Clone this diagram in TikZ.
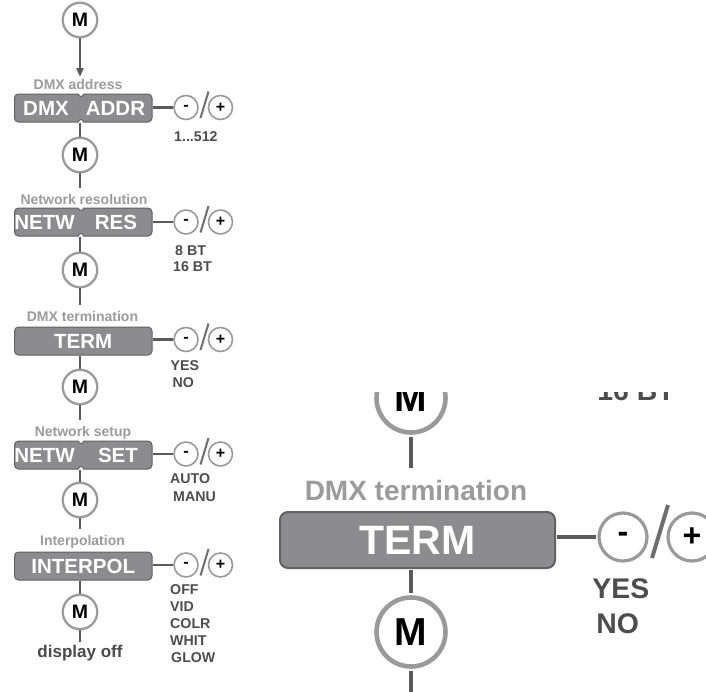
\documentclass[tikz,border=0pt]{standalone}
\usepackage{fontspec}
\setmainfont{Liberation Sans}
\usetikzlibrary{arrows.meta}
\definecolor{lblgray}{HTML}{9B9B9B}
\definecolor{optgray}{HTML}{4D4D4D}
\definecolor{ringgray}{HTML}{9A9A9A}
\definecolor{conngray}{HTML}{5A5A5A}
\definecolor{boxfill}{HTML}{8C8C8E}
\definecolor{boxedge}{HTML}{616161}
\definecolor{slashgray}{HTML}{6E6E6E}
\definecolor{dispgray}{HTML}{4A4A4A}
\def\dmxsc{1}
\tikzset{
  mnode/.style={circle, draw=ringgray, line width=\dmxsc*2.3pt, fill=white, minimum size=34.5pt, inner sep=0pt, font=\fontsize{19.5}{20}\selectfont\bfseries, text=black},
  pmnode/.style={circle, draw=ringgray, line width=\dmxsc*1.6pt, fill=white, minimum size=24pt, inner sep=0pt, font=\fontsize{16}{16}\selectfont\bfseries, text=black},
  boxnode/.style={rectangle, rounded corners=\dmxsc*4pt, draw=boxedge, line width=\dmxsc*1pt, fill=boxfill, minimum height=28pt, minimum width=137.5pt, inner sep=0pt, text=white, font=\fontsize{20.5}{22}\selectfont\bfseries},
  boxtext/.style={text=white, font=\fontsize{20.5}{22}\selectfont\bfseries, inner sep=0pt},
  lbl/.style={text=lblgray, font=\fontsize{14}{16}\selectfont\bfseries, anchor=base, inner sep=0pt},
  opt/.style={text=optgray, font=\fontsize{14.2}{16}\selectfont\bfseries, anchor=base west, inner sep=0pt},
  disptext/.style={text=dispgray, font=\fontsize{17}{19}\selectfont\bfseries, anchor=base, inner sep=0pt},
  conn/.style={draw=conngray, line width=\dmxsc*2.1pt},
  slash/.style={draw=slashgray, line width=\dmxsc*2pt},
  notchline/.style={draw=boxedge, line width=\dmxsc*1pt},
}
\newcommand\dmxnotch[3]{%
  \fill[white] (#1,#2) circle[radius=2.5];
  \fill[white] (#1,#3) circle[radius=2.5];
  \draw[notchline] (#1-2.5,#2) arc[start angle=180, end angle=0, radius=2.5];
  \draw[notchline] (#1-2.5,#3) arc[start angle=180, end angle=360, radius=2.5];
}
\newcommand\pmpair[2]{%
  \node[pmnode] (#1mi) at (186,#2) {-};
  \node[pmnode] (#1pl) at (220.5,#2) {+};
  \coordinate (#1sa) at (200.5,#2+10.5);
  \coordinate (#1sb) at (208.5,#2-16);
  \draw[slash] (#1sa) -- (#1sb);
}
% the DMX termination step (also shown enlarged)
\newcommand\termpart{%
  \node[mnode] (m2) at (80,270) {M};
  \node[mnode] (m3) at (80,387) {M};
  \node[lbl] (lC) at (82.5,321) {DMX termination};
  \node[boxnode] (bC) at (83.25,341) {TERM};
  \pmpair{pC}{339.5}
  \node[opt] (oB2) at (173,271) {16 BT};
  \node[opt] (oC1) at (170.5,370) {YES};
  \node[opt] (oC2) at (172.5,387.5) {NO};
  \coordinate (eC) at (80,305);
  \coordinate (eD) at (80,420);
  \draw[conn] (m2.south) -- (eC);
  \draw[conn] (m3.north |- bC.south) -- (m3.north);
  \draw[conn] (m3.south) -- (eD);
  \draw[conn] (bC.east |- pCmi.west) -- (pCmi.west);
}
% the other steps
\newcommand\restchart{%
  \node[mnode] (m0) at (80,20) {M};
  \node[mnode] (m1) at (80,155) {M};
  \node[mnode] (m4) at (80,500) {M};
  \node[mnode] (m5) at (80,612) {M};
  \node[lbl] (lA) at (78,89) {DMX address};
  \node[lbl] (lB) at (84,204) {Network resolution};
  \node[lbl] (lD) at (83,436) {Network setup};
  \node[lbl] (lE) at (82.5,545) {Interpolation};
  \node[disptext] (disp) at (80,657) {display off};
  \node[boxnode] (bA) at (83.25,108) {};
  \node[boxnode] (bB) at (83.25,222) {};
  \node[boxnode] (bD) at (83.25,455) {};
  \node[boxnode] (bE) at (83.25,566) {INTERPOL};
  \dmxnotch{81}{94}{122}
  \dmxnotch{81}{208}{236}
  \dmxnotch{81}{441}{469}
  \node[boxtext] (tA1) at (46,108) {DMX};
  \node[boxtext] (tA2) at (115.5,108) {ADDR};
  \node[boxtext] (tB1) at (44.5,222) {NETW};
  \node[boxtext] (tB2) at (116,222) {RES};
  \node[boxtext] (tD1) at (44.5,455) {NETW};
  \node[boxtext] (tD2) at (118,455) {SET};
  \pmpair{pA}{107.5}
  \pmpair{pB}{222}
  \pmpair{pD}{454}
  \pmpair{pE}{565}
  \node[opt] (oA1) at (174,141) {1...512};
  \node[opt] (oB1) at (175,255) {8 BT};
  \node[opt] (oD1) at (170,483.5) {AUTO};
  \node[opt] (oD2) at (173,501) {MANU};
  \node[opt] (oE1) at (170,594) {OFF};
  \node[opt] (oE2) at (170,611.2) {VID};
  \node[opt] (oE3) at (170,628.4) {COLR};
  \node[opt] (oE4) at (170,645.6) {WHIT};
  \node[opt] (oE5) at (171,662.8) {GLOW};
  \coordinate (eA) at (80,77);
  \coordinate (eB) at (80,188);
  \coordinate (eE) at (80,529);
  \coordinate (eF) at (80,642);
  \draw[conn, -{Triangle[length=9pt,width=7pt]}] (m0.south) -- (eA);
  \draw[conn] (m1.north |- bA.south) -- (m1.north);
  \draw[conn] (m1.south) -- (eB);
  \draw[conn] (m2.north |- bB.south) -- (m2.north);
  \draw[conn] (m4.north |- bD.south) -- (m4.north);
  \draw[conn] (m4.south) -- (eE);
  \draw[conn] (m5.north |- bE.south) -- (m5.north);
  \draw[conn] (m5.south) -- (eF);
  \draw[conn] (bA.east |- pAmi.west) -- (pAmi.west);
  \draw[conn] (bB.east |- pBmi.west) -- (pBmi.west);
  \draw[conn] (bD.east |- pDmi.west) -- (pDmi.west);
  \draw[conn] (bE.east |- pEmi.west) -- (pEmi.west);
}
\begin{document}
\begin{tikzpicture}[x=1pt, y=-1pt]
  \useasboundingbox (0,0) rectangle (706,691);
  \fill[white] (0,0) rectangle (706,691);
  \termpart
  \restchart
  \begin{scope}
    \clip (265,392) rectangle (706,691);
    \begin{scope}[shift={(251,-142)}, scale=2, transform shape, name prefix=R-]
      \def\dmxsc{2}
      \termpart
    \end{scope}
  \end{scope}
\end{tikzpicture}
\end{document}
